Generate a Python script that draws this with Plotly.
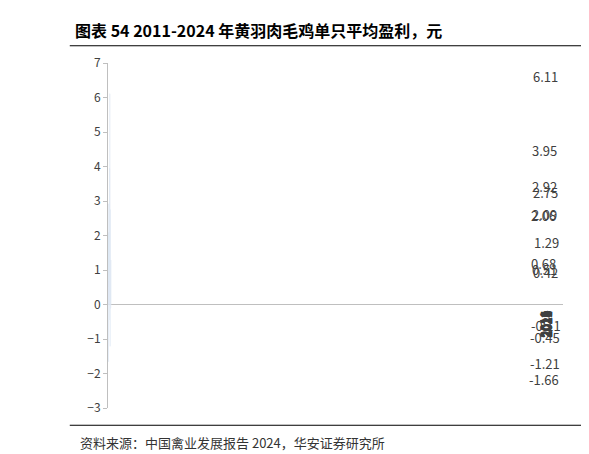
import plotly.graph_objects as go

years = ["2011", "2012", "2013", "2014", "2015", "2016", "2017",
         "2018", "2019", "2020", "2021", "2022", "2023", "2024"]
profit = [2.06, 0.68, -1.66, 2.92, 2.09, 0.51, -0.45,
          3.95, 6.11, -1.21, 0.42, 2.75, -0.11, 1.29]
y_ticks = [-3, -2, -1, 0, 1, 2, 3, 4, 5, 6, 7]

font = "Noto Sans CJK SC"

fig = go.Figure(go.Bar(
    x=years, y=profit, marker_color="#4f81bd", width=0.3,
))

# value labels: above positive bars, below negative ones
for yr, v in zip(years, profit):
    fig.add_annotation(x=yr, y=v, text=f"{v:.2f}", showarrow=False,
                       yanchor="bottom" if v >= 0 else "top",
                       yshift=6 if v >= 0 else -6,
                       font=dict(size=13, color="#404040", family=font))
    # year labels sit just under the zero line
    fig.add_annotation(x=yr, y=0, text=yr, showarrow=False, textangle=-90,
                       yanchor="top", yshift=-4,
                       font=dict(size=12, color="#404040", family=font))

fig.add_annotation(xref="paper", yref="paper", x=-0.077, y=1.096,
                   xanchor="left", yanchor="middle", showarrow=False,
                   text="<b>图表 54 2011-2024 年黄羽肉毛鸡单只平均盈利，元</b>",
                   font=dict(size=16, color="#000", family=font))
fig.add_annotation(xref="paper", yref="paper", x=-0.066, y=-0.099,
                   xanchor="left", yanchor="middle", showarrow=False,
                   text="资料来源：中国禽业发展报告 2024，华安证券研究所",
                   font=dict(size=13, color="#333", family=font))
fig.add_shape(type="line", xref="paper", yref="paper", x0=-0.084, x1=1.075,
              y0=1.05, y1=1.05, line=dict(color="#000", width=1))
fig.add_shape(type="line", xref="paper", yref="paper", x0=-0.084, x1=1.075,
              y0=-0.05, y1=-0.05, line=dict(color="#000", width=1))

fig.update_layout(
    width=589, height=454, plot_bgcolor="white", paper_bgcolor="white",
    margin=dict(l=100, r=34, t=55, b=54), showlegend=False,
    xaxis=dict(type="category", showticklabels=False, showline=False,
               showgrid=False, zeroline=False),
    yaxis=dict(range=[-3, 7], tickvals=y_ticks, showgrid=False,
               zeroline=True, zerolinecolor="#bfbfbf", zerolinewidth=1,
               showline=True, linecolor="#bfbfbf", ticks="outside",
               tickcolor="#bfbfbf", ticklen=4,
               tickfont=dict(size=12, color="#404040", family=font)),
)
fig.write_html("out.html")
